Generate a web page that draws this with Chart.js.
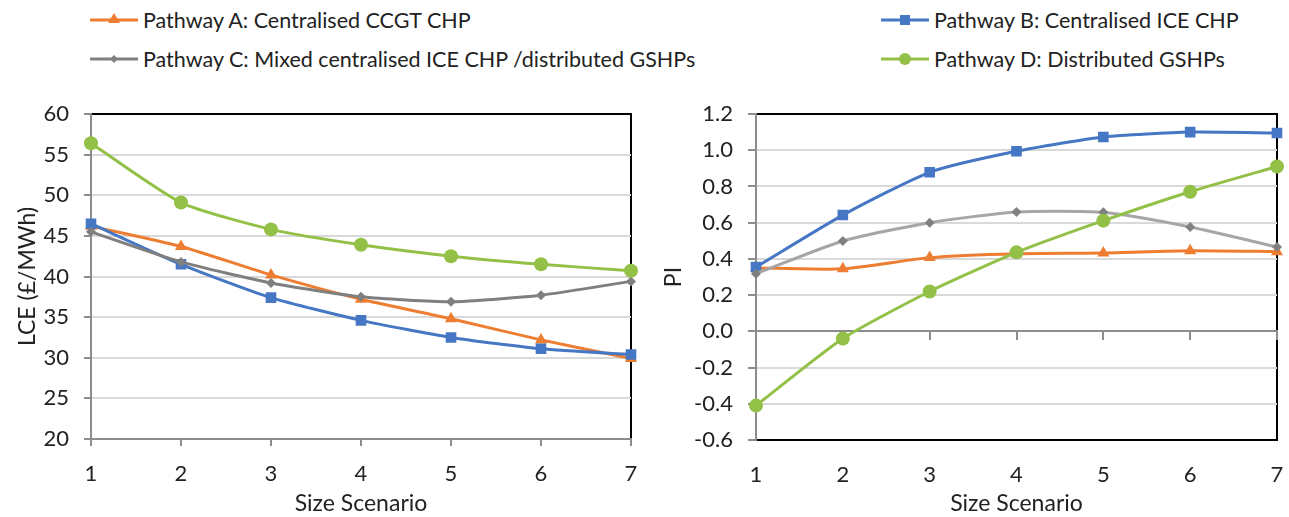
<!DOCTYPE html>
<html lang="en">
<head>
    <meta charset="UTF-8">
    <title>LCE and PI by size scenario</title>
    <script src="https://cdn.jsdelivr.net/npm/chart.js"></script>
    <style>
        body { margin: 0; background: #fff; font-family: Lato, sans-serif; }
        #wrap { position: relative; width: 1289px; height: 517px; overflow: hidden; }
        .box { position: absolute; top: 95px; height: 422px; }
        .leg { position: absolute; display: flex; align-items: center; height: 26px;
               font-size: 21.5px; color: #222; white-space: nowrap; }
        .leg svg { margin-right: 5px; }
    </style>
</head>
<body>
<div id="wrap">
    <div id="legend"></div>
    <div class="box" style="left:0;width:645px"><canvas id="lceChart"></canvas></div>
    <div class="box" style="left:645px;width:644px"><canvas id="piChart"></canvas></div>
</div>
<script>
    // data
    const scenarios = ['1', '2', '3', '4', '5', '6', '7'];
    const names = [
        'Pathway A: Centralised CCGT CHP',
        'Pathway B: Centralised ICE CHP',
        'Pathway C: Mixed centralised ICE CHP /distributed GSHPs',
        'Pathway D: Distributed GSHPs'
    ];
    const lceA = [46.2, 43.7, 40.2, 37.2, 34.8, 32.2, 29.9];
    const lceB = [46.5, 41.5, 37.4, 34.6, 32.5, 31.1, 30.4];
    const lceC = [45.5, 41.8, 39.2, 37.5, 36.9, 37.7, 39.4];
    const lceD = [56.4, 49.1, 45.8, 43.9, 42.5, 41.5, 40.7];
    const piA = [0.35, 0.345, 0.407, 0.429, 0.433, 0.445, 0.44];
    const piB = [0.355, 0.642, 0.878, 0.994, 1.073, 1.10, 1.095];
    const piC = [0.318, 0.499, 0.60, 0.659, 0.657, 0.576, 0.466];
    const piD = [-0.41, -0.04, 0.22, 0.436, 0.611, 0.771, 0.91];

    const colors = ['#ed7d31', '#4677c4', '#808080', '#93c047'];
    const shapes = ['triangle', 'rect', 'rectRot', 'circle'];
    const radii = [7, 7.5, 5, 7];

    const txt = '#222';
    const axisGray = '#8c8c8c';
    const gridGray = '#d9d9d9';

    Chart.defaults.font.family = 'Lato, sans-serif';
    Chart.defaults.color = txt;

    // legend (two columns)
    const legPos = [[90, 7], [881, 7], [90, 46], [881, 46]];
    function swatch(i) {
        const c = colors[i];
        let m = '';
        if (shapes[i] === 'triangle') m = `<polygon points="24,6 30,16 18,16" fill="${c}"/>`;
        if (shapes[i] === 'rect') m = `<rect x="19" y="8" width="10" height="10" fill="${c}"/>`;
        if (shapes[i] === 'rectRot') m = `<polygon points="24,9 28,13 24,17 20,13" fill="${c}"/>`;
        if (shapes[i] === 'circle') m = `<circle cx="24" cy="13" r="6" fill="${c}"/>`;
        return `<svg width="48" height="26"><line x1="0" y1="13" x2="48" y2="13" stroke="${c}" stroke-width="3"/>${m}</svg>`;
    }
    document.getElementById('legend').innerHTML = names.map((n, i) =>
        `<div class="leg" style="left:${legPos[i][0]}px;top:${legPos[i][1]}px">${swatch(i)}${n}</div>`).join('');

    function makeSets(arrs, grayLine) {
        return arrs.map((d, i) => ({
            label: names[i],
            data: d,
            borderColor: i === 2 ? grayLine : colors[i],
            backgroundColor: colors[i],
            pointBackgroundColor: colors[i],
            pointBorderColor: colors[i],
            pointBorderWidth: 0,
            borderWidth: 3,
            pointStyle: shapes[i],
            pointRadius: radii[i],
            tension: 0.2,
            order: 3 - i
        }));
    }

    // black plot frame drawn under the axes
    const frame = {
        id: 'frame',
        beforeDraw(chart) {
            const a = chart.chartArea, ctx = chart.ctx;
            ctx.save();
            ctx.strokeStyle = '#000';
            ctx.lineWidth = 2;
            ctx.strokeRect(a.left, a.top, a.right - a.left, a.bottom - a.top);
            ctx.restore();
        }
    };

    // no extra room for overhanging labels, the layout padding does it
    function noPad(s) { s.paddingLeft = 0; s.paddingRight = 0; s.paddingTop = 0; s.paddingBottom = 0; }

    const tickFont = { size: 22 };
    const titleFont = { size: 23 };

    new Chart(document.getElementById('lceChart'), {
        type: 'line',
        data: { labels: scenarios, datasets: makeSets([lceA, lceB, lceC, lceD], '#7f7f7f') },
        plugins: [frame],
        options: {
            responsive: true,
            maintainAspectRatio: false,
            animation: false,
            layout: { padding: { top: 19, right: 14, left: 0, bottom: 0 } },
            plugins: { legend: { display: false }, tooltip: { enabled: false } },
            scales: {
                x: {
                    offset: false,
                    grid: { drawOnChartArea: false, drawTicks: true, tickLength: 7, tickColor: axisGray, lineWidth: 2 },
                    border: { color: axisGray, width: 2 },
                    ticks: { font: tickFont, padding: 15, maxRotation: 0 },
                    title: { display: true, text: 'Size Scenario', font: titleFont, padding: { top: 0, bottom: 0 } },
                    afterFit(s) { s.height = 78; noPad(s); }
                },
                y: {
                    min: 20, max: 60,
                    ticks: { stepSize: 5, font: tickFont, padding: 15 },
                    grid: {
                        color: c => c.tick.value === 60 ? 'rgba(0,0,0,0)' : gridGray,
                        lineWidth: 2, tickLength: 7, tickColor: axisGray
                    },
                    border: { color: axisGray, width: 2 },
                    title: { display: true, text: 'LCE (£/MWh)', font: titleFont, padding: { top: 14, bottom: 0 } },
                    afterFit(s) { s.width = 91; noPad(s); }
                }
            }
        }
    });

    new Chart(document.getElementById('piChart'), {
        type: 'line',
        data: { labels: scenarios, datasets: makeSets([piA, piB, piC, piD], '#a6a6a6') },
        plugins: [frame],
        options: {
            responsive: true,
            maintainAspectRatio: false,
            animation: false,
            layout: { padding: { top: 19, right: 12, left: 0, bottom: 0 } },
            plugins: { legend: { display: false }, tooltip: { enabled: false } },
            scales: {
                x: {
                    offset: false,
                    grid: { display: false },
                    border: { display: false },
                    ticks: { font: tickFont, padding: 14, maxRotation: 0 },
                    title: { display: true, text: 'Size Scenario', font: titleFont, padding: { top: 0, bottom: 0 } },
                    afterFit(s) { s.height = 77; noPad(s); }
                },
                x0: {
                    axis: 'x',
                    type: 'category',
                    labels: scenarios,
                    offset: false,
                    position: { y: 0 },
                    ticks: { display: false },
                    grid: { drawOnChartArea: false, drawTicks: true, tickLength: 8, tickColor: axisGray, lineWidth: 2 },
                    border: { color: axisGray, width: 2 },
                    afterFit: noPad
                },
                y: {
                    min: -0.6, max: 1.2,
                    ticks: {
                        stepSize: 0.2, font: tickFont, padding: 15,
                        callback: v => (Math.abs(v) < 1e-9 ? 0 : v).toFixed(1)
                    },
                    grid: {
                        color: c => (Math.abs(c.tick.value - 1.2) < 1e-6 || Math.abs(c.tick.value + 0.6) < 1e-6) ? 'rgba(0,0,0,0)' : gridGray,
                        lineWidth: 2, tickLength: 8, tickColor: axisGray
                    },
                    border: { color: axisGray, width: 2 },
                    title: { display: true, text: 'PI', font: titleFont, padding: { top: 15, bottom: 0 } },
                    afterFit(s) { s.width = 111; noPad(s); }
                }
            }
        }
    });
</script>
</body>
</html>
